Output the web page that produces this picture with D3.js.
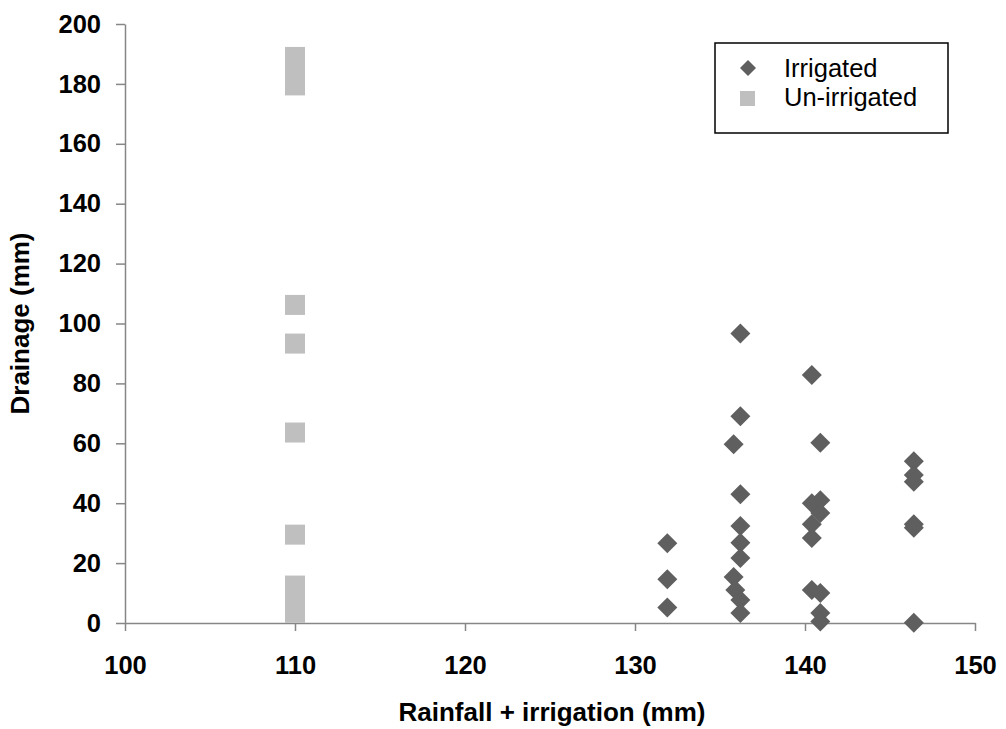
<!DOCTYPE html>
<html>
<head>
<meta charset="utf-8">
<script src="https://cdn.jsdelivr.net/npm/d3@7"></script>
<style>
  body { margin: 0; background: #fff; }
  text { font-family: "Liberation Sans", Arial, sans-serif; }
  .tick text { font-size: 25.5px; font-weight: bold; fill: #000; }
  .axis-label { font-size: 26px; font-weight: bold; text-anchor: middle; }
  .legend-text { font-size: 25.5px; }
</style>
</head>
<body>
<svg id="chart" width="1006" height="729"></svg>
<script>
// DATA
const irrigatedX = [131.9, 131.9, 131.9,
  136.2, 136.2, 135.8, 136.2, 136.2, 136.2, 136.2, 135.8, 135.9, 136.2, 136.2,
  140.4, 140.9, 140.9, 140.4, 140.9, 140.4, 140.4, 140.4, 140.9, 140.9, 140.9,
  146.4, 146.4, 146.4, 146.4, 146.4, 146.4];
const irrigatedY = [26.6, 14.6, 5.2,
  96.7, 69, 59.7, 43, 32.4, 26.8, 21.7, 15.4, 11, 7.7, 3.3,
  82.8, 60.2, 41, 40, 36.7, 33, 28.4, 11, 10, 3.3, 0.5,
  54, 49.4, 47.2, 33, 31.8, 0.1];

const unirrigatedX = [110, 110, 110, 110, 110, 110, 110, 110, 110, 110, 110, 110];
const unirrigatedY = [189, 186, 183, 179.5, 106.2, 93.3, 63.6, 29.5, 12.5, 9, 6, 3.4];

const xTicks = [100, 110, 120, 130, 140, 150];
const yTicks = [0, 20, 40, 60, 80, 100, 120, 140, 160, 180, 200];
const seriesNames = ["Irrigated", "Un-irrigated"];

// SETUP
const margin = { top: 24, right: 31, bottom: 106, left: 125 },
      width = 1006 - margin.left - margin.right,
      height = 729 - margin.top - margin.bottom;

const svg = d3.select("#chart")
  .append("g")
  .attr("transform", `translate(${margin.left},${margin.top})`);

const x = d3.scaleLinear().domain([100, 150]).range([0, width]);
const y = d3.scaleLinear().domain([0, 200]).range([height, 0]);

const axisColor = "#868686";
const darkColor = "#5f5f5f";
const lightColor = "#bfbfbf";

// diamond path (half-diagonal r)
const diamond = r => `M0,${-r}L${r},0L0,${r}L${-r},0Z`;

// AXES
const xAxis = svg.append("g")
  .attr("transform", `translate(0,${height})`)
  .call(d3.axisBottom(x).tickValues(xTicks).tickSize(8).tickPadding(25).tickSizeOuter(0));

const yAxis = svg.append("g")
  .call(d3.axisLeft(y).tickValues(yTicks).tickSize(9).tickPadding(15).tickSizeOuter(0));

[xAxis, yAxis].forEach(a => {
  a.select(".domain").attr("stroke", axisColor).attr("stroke-width", 1.5);
  a.selectAll(".tick line").attr("stroke", axisColor).attr("stroke-width", 1.5);
});

// POINTS: un-irrigated squares
svg.selectAll("rect.unirr")
  .data(unirrigatedX.map((d, i) => ({ x: d, y: unirrigatedY[i] })))
  .enter()
  .append("rect")
  .attr("class", "unirr")
  .attr("x", d => x(d.x) - 10)
  .attr("y", d => y(d.y) - 10)
  .attr("width", 20)
  .attr("height", 20)
  .attr("fill", lightColor);

// POINTS: irrigated diamonds
svg.selectAll("path.irr")
  .data(irrigatedX.map((d, i) => ({ x: d, y: irrigatedY[i] })))
  .enter()
  .append("path")
  .attr("class", "irr")
  .attr("transform", d => `translate(${x(d.x)},${y(d.y)})`)
  .attr("d", diamond(10))
  .attr("fill", darkColor);

// LABELS
svg.append("text")
  .attr("class", "axis-label")
  .attr("x", width / 2 + 2)
  .attr("y", height + 98)
  .text("Rainfall + irrigation (mm)");

svg.append("text")
  .attr("class", "axis-label")
  .attr("transform", "rotate(-90)")
  .attr("x", -height / 2)
  .attr("y", -96)
  .text("Drainage (mm)");

// LEGEND
const legend = d3.select("#chart").append("g");
legend.append("rect")
  .attr("x", 715).attr("y", 43)
  .attr("width", 233).attr("height", 90)
  .attr("fill", "#fff").attr("stroke", "#000").attr("stroke-width", 1.5);

legend.append("path")
  .attr("transform", "translate(748,68)")
  .attr("d", diamond(8))
  .attr("fill", darkColor);
legend.append("rect")
  .attr("x", 740).attr("y", 91)
  .attr("width", 15).attr("height", 15)
  .attr("fill", lightColor);

legend.selectAll("text.legend-text")
  .data(seriesNames)
  .enter()
  .append("text")
  .attr("class", "legend-text")
  .attr("x", 784)
  .attr("y", (d, i) => 77 + i * 29)
  .text(d => d);
</script>
</body>
</html>
